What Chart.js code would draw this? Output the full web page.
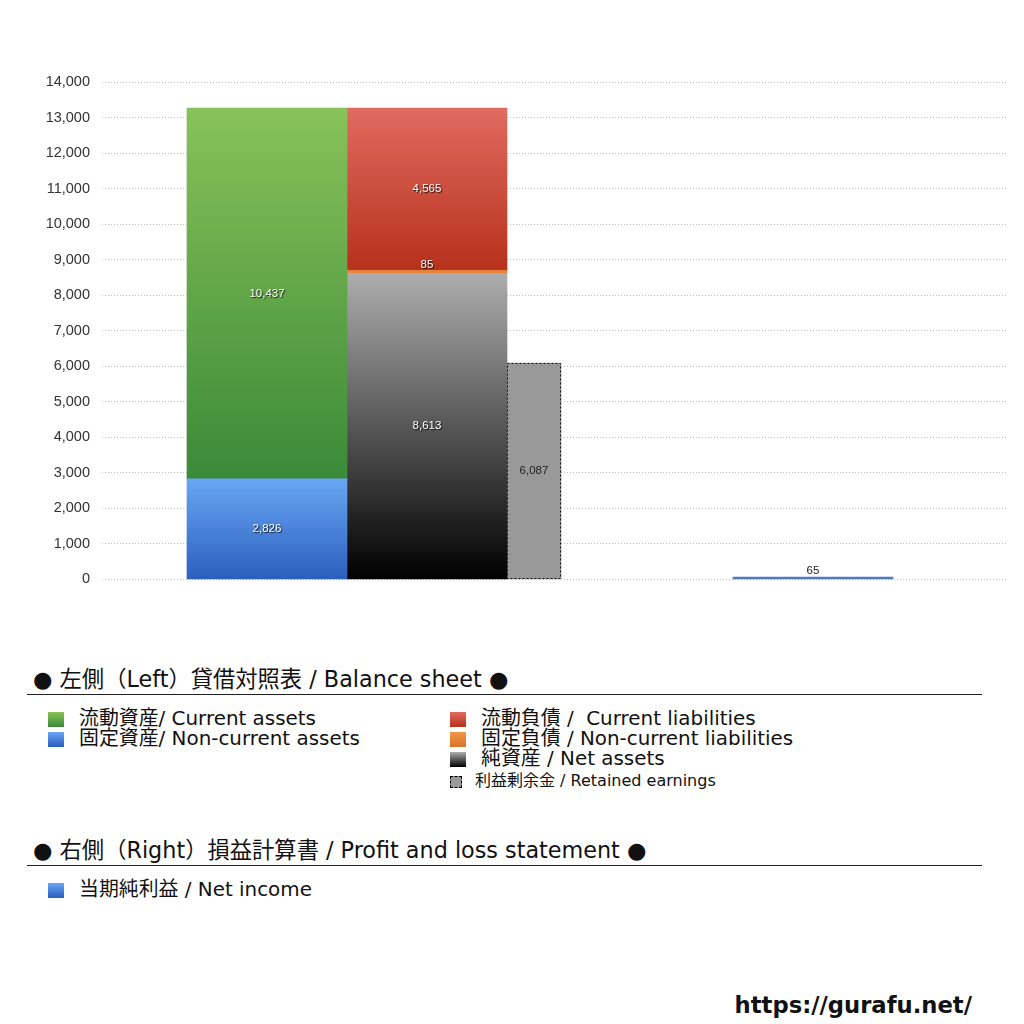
<!DOCTYPE html>
<html lang="ja">
<head>
<meta charset="utf-8">
<title>貸借対照表 / 損益計算書</title>
<script src="https://cdn.jsdelivr.net/npm/chart.js@4.4.1/dist/chart.umd.min.js"></script>
<style>
  html, body { margin: 0; padding: 0; background: #fff; }
  body {
    width: 1024px; height: 1024px; position: relative; overflow: hidden;
    font-family: "DejaVu Sans", "Noto Sans CJK JP", sans-serif; color: #111;
  }
  #chartBox { position: absolute; left: 0; top: 0; width: 1024px; height: 600px; }
  .heading { position: absolute; left: 33px; font-size: 22.3px; line-height: 26px; white-space: nowrap; }
  .rule { position: absolute; left: 27px; width: 955px; border-top: 1px solid #222; }
  .item { position: absolute; font-size: 19.9px; line-height: 20px; white-space: nowrap; }
  .item .sw { position: absolute; left: 0; top: 3px; width: 16px; height: 15px; }
  .item .t { position: absolute; left: 31px; top: 0; }
  .item.small { font-size: 16px; line-height: 18px; }
  .item.small .sw { top: 4px; width: 10px; height: 10px; border: 1px dashed #000; background: #999; }
  .item.small .t { left: 25px; }
  #site { position: absolute; right: 52px; top: 991px; font-size: 22.7px; font-weight: bold; line-height: 28px; }
</style>
</head>
<body>
<div id="chartBox"><canvas id="bsChart"></canvas></div>

<div class="heading" style="top:666px">● 左側（Left）貸借対照表 / Balance sheet ●</div>
<div class="rule" style="top:694px"></div>

<div class="item" style="left:48px;top:709px"><div class="sw" style="background:linear-gradient(#88c25a,#3b8a38)"></div><span class="t">流動資産/ Current assets</span></div>
<div class="item" style="left:48px;top:729px"><div class="sw" style="background:linear-gradient(#68a6f4,#2c5fbe)"></div><span class="t">固定資産/ Non-current assets</span></div>

<div class="item" style="left:450px;top:709px"><div class="sw" style="background:linear-gradient(#e06b60,#b7311c)"></div><span class="t">流動負債 /&nbsp; Current liabilities</span></div>
<div class="item" style="left:450px;top:729px"><div class="sw" style="background:linear-gradient(#f0974a,#d9742a)"></div><span class="t">固定負債 / Non-current liabilities</span></div>
<div class="item" style="left:450px;top:749px"><div class="sw" style="background:linear-gradient(#adadad,#000)"></div><span class="t">純資産 / Net assets</span></div>
<div class="item small" style="left:450px;top:772px"><div class="sw"></div><span class="t">利益剰余金 / Retained earnings</span></div>

<div class="heading" style="top:837px">● 右側（Right）損益計算書 / Profit and loss statement ●</div>
<div class="rule" style="top:865px"></div>

<div class="item" style="left:48px;top:880px"><div class="sw" style="background:linear-gradient(#68a6f4,#2c5fbe)"></div><span class="t">当期純利益 / Net income</span></div>

<div id="site">https://gurafu.net/</div>

<script>
// left: balance sheet, right: profit and loss
const categories = ["貸借対照表", "損益計算書"];

const nonCurrentAssets = [2826, null];
const currentAssets = [10437, null];

const netAssets = [8613, null];
const nonCurrentLiabilities = [85, null];
const currentLiabilities = [4565, null];

const retainedEarnings = [6087, null];

const netIncome = [null, 65];

const yMax = 14000;
const yStep = 1000;

// vertical gradient for one stacked segment, from its own top to its own bottom
function segmentGradient(top, bottom, below) {
  return (c) => {
    const chart = c.chart;
    const v = c.raw;
    if (!chart.chartArea || v == null) return bottom;
    const i = c.dataIndex;
    const base = below.reduce((s, arr) => s + (arr[i] || 0), 0);
    const y = chart.scales.y;
    const y0 = y.getPixelForValue(base + v);
    const y1 = y.getPixelForValue(base);
    if (!isFinite(y0) || !isFinite(y1) || y1 - y0 < 1) return bottom;
    const g = chart.ctx.createLinearGradient(0, y0, 0, y1);
    g.addColorStop(0, top);
    g.addColorStop(1, bottom);
    return g;
  };
}

// numbers inside the bars + dashed outline for retained earnings
const valueLabels = {
  id: "valueLabels",
  afterDatasetsDraw(chart) {
    const ctx = chart.ctx;
    ctx.save();
    ctx.font = '11.5px "Liberation Sans", "DejaVu Sans", sans-serif';
    ctx.textAlign = "center";
    ctx.textBaseline = "middle";
    chart.data.datasets.forEach((ds, di) => {
      const meta = chart.getDatasetMeta(di);
      meta.data.forEach((bar, i) => {
        const v = ds.data[i];
        if (v == null) return;
        const { x, y, base, width } = bar.getProps(["x", "y", "base", "width"], true);

        if (ds.dashed) {
          ctx.save();
          ctx.setLineDash([2, 2]);
          ctx.strokeStyle = "#111";
          ctx.lineWidth = 1;
          ctx.strokeRect(Math.round(x - width / 2) + 0.5, Math.round(y) + 0.5,
            Math.round(width) - 1, Math.round(base - y) - 1);
          ctx.restore();
        }

        let ty = (y + base) / 2;
        if (base - y < 14) ty = y - 6;

        ctx.save();
        if (ds.labelShadow) {
          ctx.shadowColor = "rgba(0,0,0,0.85)";
          ctx.shadowOffsetX = 1;
          ctx.shadowOffsetY = 1;
          ctx.shadowBlur = 1;
        }
        ctx.fillStyle = ds.labelColor;
        ctx.fillText(v.toLocaleString("en-US"), x, ty);
        ctx.restore();
      });
    });
    ctx.restore();
  },
};

new Chart(document.getElementById("bsChart"), {
  type: "bar",
  data: {
    labels: categories,
    datasets: [
      {
        label: "固定資産/ Non-current assets",
        data: nonCurrentAssets,
        stack: "assets",
        backgroundColor: segmentGradient("#68a6f4", "#2c5fbe", []),
        labelColor: "#fff", labelShadow: true,
      },
      {
        label: "流動資産/ Current assets",
        data: currentAssets,
        stack: "assets",
        backgroundColor: segmentGradient("#88c25a", "#3b8a38", [nonCurrentAssets]),
        labelColor: "#fff", labelShadow: true,
      },
      {
        label: "純資産 / Net assets",
        data: netAssets,
        stack: "liabilities",
        backgroundColor: segmentGradient("#adadad", "#000000", []),
        labelColor: "#fff", labelShadow: true,
      },
      {
        label: "固定負債 / Non-current liabilities",
        data: nonCurrentLiabilities,
        stack: "liabilities",
        backgroundColor: "#e8843a",
        labelColor: "#fff", labelShadow: true,
      },
      {
        label: "流動負債 / Current liabilities",
        data: currentLiabilities,
        stack: "liabilities",
        backgroundColor: segmentGradient("#e06b60", "#b7311c", [netAssets, nonCurrentLiabilities]),
        labelColor: "#fff", labelShadow: true,
      },
      {
        // narrow third column: half of its slot, so it sits against the liabilities
        label: "利益剰余金 / Retained earnings",
        data: retainedEarnings,
        stack: "retained",
        barThickness: 107,
        maxBarThickness: 54,
        backgroundColor: "#999999",
        dashed: true,
        labelColor: "#222", labelShadow: false,
      },
      {
        label: "当期純利益 / Net income",
        data: netIncome,
        stack: "income",
        backgroundColor: "#4d7cc0",
        labelColor: "#222", labelShadow: false,
      },
    ],
  },
  options: {
    responsive: true,
    maintainAspectRatio: false,
    animation: false,
    devicePixelRatio: 1,
    layout: { padding: { top: 82, right: 18, bottom: 16.8, left: 0 } },
    datasets: {
      bar: { barThickness: 160, skipNull: true, borderWidth: 0, clip: false },
    },
    plugins: {
      legend: { display: false },
      tooltip: { enabled: false },
    },
    scales: {
      x: {
        type: "category",
        display: false,
        offset: true,
        grid: { display: false },
      },
      y: {
        stacked: true,
        min: 0,
        max: yMax,
        // wide axis box; its dotted tick marks carry the grid lines out to the labels
        afterFit(scale) { scale.width = 234; },
        ticks: {
          stepSize: yStep,
          padding: 12,
          color: "#333",
          font: { family: '"Liberation Sans", "DejaVu Sans", sans-serif', size: 14.5 },
          callback: (v) => v.toLocaleString("en-US"),
        },
        grid: {
          color: "#bdbdbd",
          lineWidth: 1,
          tickLength: 132,
          tickColor: "#bdbdbd",
          tickBorderDash: [1, 2],
        },
        border: { display: false, dash: [1, 2] },
      },
    },
  },
  plugins: [valueLabels],
});
</script>
</body>
</html>
